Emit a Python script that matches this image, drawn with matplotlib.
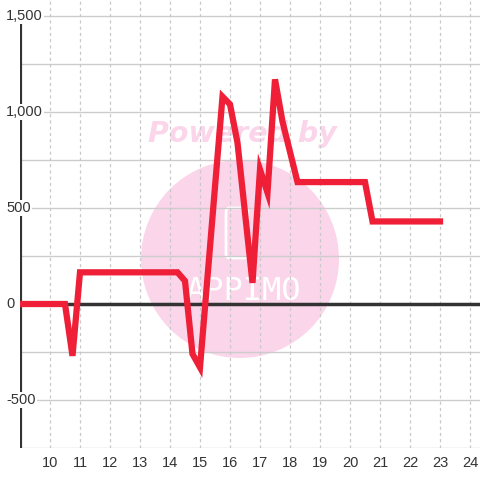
import matplotlib
matplotlib.use('Agg')
import matplotlib.pyplot as plt
import matplotlib.transforms as mtransforms
import numpy as np
from matplotlib.patches import Circle, FancyBboxPatch

hours = [9, 10.5, 10.75, 11, 14.25, 14.5, 14.75, 15, 15.75, 16, 16.25, 16.75,
         17, 17.25, 17.5, 17.75, 18.25, 20.5, 20.75, 23]
values = [0, 0, -270, 165, 165, 120, -260, -330, 1080, 1040, 840, 110,
          700, 580, 1170, 950, 635, 635, 430, 430]
x_ticks = list(range(10, 25))
y_ticks = [-500, 0, 500, 1000, 1500]
y_labels = ['-500', '0', '500', '1,000', '1,500']

plt.rcParams['font.family'] = ['Liberation Sans', 'DejaVu Sans']

fig = plt.figure(figsize=(4.8, 4.8), dpi=100)
fig.patch.set_facecolor('white')

# watermark behind everything
fig.patches.append(Circle((240 / 480, 1 - 259 / 480), 99 / 480, transform=fig.transFigure,
                          facecolor='#fbd5ea', edgecolor='none', zorder=-5))
fig.patches.append(FancyBboxPatch((226 / 480, 1 - 258 / 480), 22 / 480, 50 / 480,
                                  boxstyle='round,pad=0,rounding_size=0.008',
                                  transform=fig.transFigure, facecolor='none',
                                  edgecolor='white', lw=2, zorder=-4))
fig.text(242 / 480, 1 - 134 / 480, 'Powered by', color='#fbd5ea', fontsize=20.5,
         fontweight='bold', style='italic', family='DejaVu Sans', ha='center', va='center', zorder=-4)
fig.text(243 / 480, 1 - 292 / 480, 'APPIMO', color='white', fontsize=23,
         family='DejaVu Sans Mono', ha='center', va='center', zorder=-4)

ax = fig.add_axes([20 / 480, 32 / 480, 460 / 480, 448 / 480])
ax.set_facecolor('none')
ax.set_xlim(9, 9 + 460 / 30)
ax.set_ylim(-750, -750 + 448 / 0.192)

for v in np.arange(-750, 1501, 250):
    ax.axhline(v, color='#cccccc', lw=1, zorder=1)
for h in x_ticks:
    ax.axvline(h, color='#c8c8c8', lw=0.9, ls=(0, (2.5, 2.5)), zorder=1)
ax.axhline(0, color='#333333', lw=2.5, zorder=2)
ax.plot([9, 9], [-750, 1458], color='#333333', lw=3, zorder=2, solid_capstyle='butt')

ax.plot(hours, values, color='#ee1f36', lw=4.5, zorder=4, solid_joinstyle='miter')

for s in ax.spines.values():
    s.set_visible(False)
ax.set_yticks([])
ax.set_xticks(x_ticks)
ax.set_xticklabels([str(t) for t in x_ticks])
ax.tick_params(axis='x', length=0, pad=6, labelsize=10.5, labelcolor='#333333')

trans = mtransforms.blended_transform_factory(fig.transFigure, ax.transData)
for v, lab in zip(y_ticks, y_labels):
    ax.text(6 / 480, v, lab, transform=trans,
            ha='left', va='center', fontsize=10.5, color='#333333', zorder=5,
            bbox=dict(facecolor='white', edgecolor='none', pad=1))

fig.savefig('out.png', dpi=100)
